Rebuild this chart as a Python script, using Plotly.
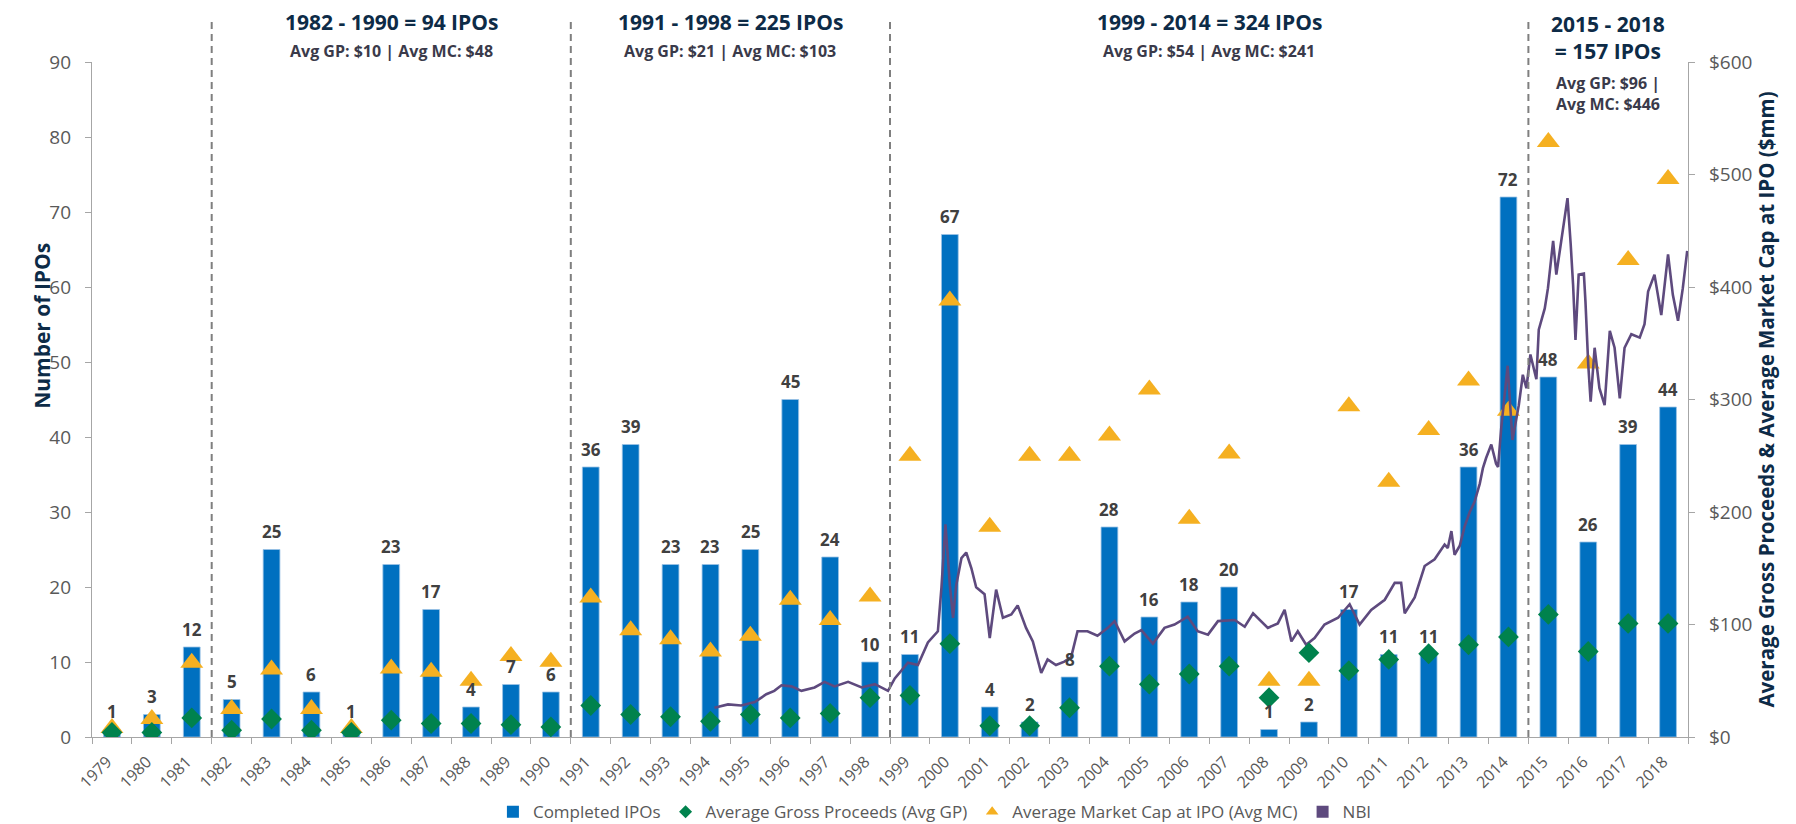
import plotly.graph_objects as go

# ---------------- data ----------------
years = list(range(1979, 2019))
ipos = [1, 3, 12, 5, 25, 6, 1, 23, 17, 4, 7, 6, 36, 39, 23, 23, 25, 45, 24, 10,
        11, 67, 4, 2, 8, 28, 16, 18, 20, 1, 2, 17, 11, 11, 36, 72, 48, 26, 39, 44]
avg_gp = [4, 4, 17, 6, 16, 6, 4, 15, 12, 12, 11, 9, 28, 20, 18, 14, 20, 17, 21, 35,
          37, 83, 10, 10, 26, 63, 47, 56, 63, 35, 75, 59, 69, 74, 82, 89, 109, 76, 101, 101]
avg_mc = [8, 16, 66, 25, 60, 25, 8, 61, 58, 50, 72, 67, 124, 95, 87, 76, 90, 122, 104, 125,
          250, 388, 187, 250, 250, 268, 309, 194, 252, 50, 50, 294, 227, 273, 317, 290,
          529, 332, 424, 496]

# NBI (plotted against the right-hand scale), x as decimal years
nbi_year = [1994.10, 1994.44, 1994.77, 1995.11, 1995.40, 1995.60, 1995.78, 1996.03, 1996.28,
            1996.61, 1996.86, 1997.11, 1997.45, 1997.79, 1998.12, 1998.45, 1998.62, 1998.95,
            1999.20, 1999.45, 1999.70, 1999.79, 1999.89, 2000.00, 2000.08, 2000.16, 2000.29,
            2000.41, 2000.54, 2000.66, 2000.87, 2001.00, 2001.16, 2001.33, 2001.54, 2001.70,
            2001.91, 2002.08, 2002.29, 2002.45, 2002.66, 2002.87, 2003.04, 2003.20, 2003.45,
            2003.70, 2003.96, 2004.13, 2004.38, 2004.63, 2004.80, 2005.09, 2005.38, 2005.63,
            2005.96, 2006.21, 2006.47, 2006.72, 2007.14, 2007.39, 2007.60, 2007.97, 2008.22,
            2008.39, 2008.56, 2008.72, 2008.93, 2009.14, 2009.39, 2009.73, 2010.02, 2010.27,
            2010.56, 2010.90, 2011.15, 2011.31, 2011.40, 2011.65, 2011.90, 2012.15, 2012.40,
            2012.48, 2012.57, 2012.65, 2012.78, 2012.90, 2013.03, 2013.15, 2013.28, 2013.36,
            2013.44, 2013.57, 2013.69, 2013.74, 2013.82, 2013.98, 2014.10, 2014.26, 2014.36,
            2014.45, 2014.55, 2014.70, 2014.76, 2014.91, 2014.99, 2015.12, 2015.20, 2015.32,
            2015.48, 2015.56, 2015.62, 2015.68, 2015.76, 2015.89, 2015.93, 2016.00, 2016.06,
            2016.16, 2016.28, 2016.41, 2016.54, 2016.66, 2016.79, 2016.91, 2017.08, 2017.29,
            2017.41, 2017.50, 2017.66, 2017.83, 2018.00, 2018.12, 2018.25, 2018.37, 2018.48]
nbi_value = [26, 29, 28, 31, 38, 41, 46, 45, 41,
             44, 49, 45, 49, 44, 47, 41, 52, 66,
             64, 84, 94, 133, 189, 135, 106, 135, 159,
             164, 150, 133, 127, 88, 131, 106, 109, 117,
             97, 85, 57, 69, 64, 67, 71, 94, 94,
             90, 97, 103, 85, 92, 95, 83, 97, 100,
             107, 94, 91, 103, 104, 98, 110, 97, 101,
             113, 85, 94, 82, 88, 100, 106, 118, 100,
             113, 122, 137, 137, 110, 124, 152, 158, 171,
             168, 183, 162, 170, 187, 200, 209, 225, 239,
             248, 260, 243, 240, 275, 330, 264, 295, 322,
             310, 340, 318, 362, 381, 399, 441, 411, 441,
             479, 438, 402, 353, 411, 412, 387, 331, 298,
             346, 310, 295, 361, 346, 301, 346, 358, 355,
             367, 396, 411, 375, 429, 393, 370, 399, 432]

# period annotations (text as printed on the chart)
periods = [(1982, 1990), (1991, 1998), (1999, 2014), (2015, 2018)]
period_titles = ["1982 - 1990 = 94 IPOs", "1991 - 1998 = 225 IPOs",
                 "1999 - 2014 = 324 IPOs", "2015 - 2018<br>= 157 IPOs"]
period_subtitles = ["Avg GP: $10 | Avg MC: $48", "Avg GP: $21 | Avg MC: $103",
                    "Avg GP: $54 | Avg MC: $241", "Avg GP: $96 |<br>Avg MC: $446"]

# ---------------- styles ----------------
BLUE = "#0070C0"
GREEN = "#00824D"
GOLD = "#F5B021"
PURPLE = "#5E4A7E"
NAVY = "#0D2B47"
GREY_TXT = "#595959"
AXIS = "#A6A6A6"
FONT = "Open Sans"

fig = go.Figure()

fig.add_trace(go.Bar(x=years, y=ipos, width=0.42,
                     marker=dict(color=BLUE, line=dict(color="#9CC3E5", width=0.8)),
                     name="Completed IPOs", showlegend=False))
fig.add_trace(go.Scatter(x=years, y=avg_mc, yaxis="y2", mode="markers",
                         marker=dict(symbol="triangle-up", size=20, color=GOLD),
                         name="Average Market Cap at IPO (Avg MC)", showlegend=False))
fig.add_trace(go.Scatter(x=nbi_year, y=nbi_value, yaxis="y2", mode="lines",
                         line=dict(color=PURPLE, width=2.6), name="NBI", showlegend=False))
fig.add_trace(go.Scatter(x=years, y=avg_gp, yaxis="y2", mode="markers",
                         marker=dict(symbol="diamond", size=16, color=GREEN),
                         name="Average Gross Proceeds (Avg GP)", showlegend=False))

# legend entries
fig.add_trace(go.Scatter(x=[None], y=[None], mode="markers", name="Completed IPOs",
                         marker=dict(symbol="square", size=12, color=BLUE)))
fig.add_trace(go.Scatter(x=[None], y=[None], mode="markers", name="Average Gross Proceeds (Avg GP)",
                         marker=dict(symbol="diamond", size=10, color=GREEN)))
fig.add_trace(go.Scatter(x=[None], y=[None], mode="markers", name="Average Market Cap at IPO (Avg MC)",
                         marker=dict(symbol="triangle-up", size=11, color=GOLD)))
fig.add_trace(go.Scatter(x=[None], y=[None], mode="markers", name="NBI",
                         marker=dict(symbol="square", size=12, color=PURPLE)))

annotations = []
# bar value labels
for yr, n in zip(years, ipos):
    annotations.append(dict(x=yr, y=n, xref="x", yref="y", text=str(n), showarrow=False,
                            yshift=18, font=dict(family=FONT, size=17, color="#404040", weight="bold")))

shapes = []
for (a, b), t, s in zip(periods, period_titles, period_subtitles):
    shapes.append(dict(type="line", xref="x", yref="paper", x0=a - 0.5, x1=a - 0.5, y0=0, y1=1.066,
                       line=dict(color="#7F7F7F", width=2, dash="7px,5px")))
    c = (a + b) / 2
    if "<br>" in t:
        annotations.append(dict(x=c, y=1.037, xref="x", yref="paper", text=t, showarrow=False,
                                font=dict(family=FONT, size=21, color=NAVY, weight="bold"), yanchor="middle"))
        annotations.append(dict(x=c, y=0.953, xref="x", yref="paper", text=s, showarrow=False,
                                font=dict(family=FONT, size=16, color="#3A3A4A", weight="bold"), yanchor="middle"))
    else:
        annotations.append(dict(x=c, y=1.059, xref="x", yref="paper", text=t, showarrow=False,
                                font=dict(family=FONT, size=21, color=NAVY, weight="bold"), yanchor="middle"))
        annotations.append(dict(x=c, y=1.016, xref="x", yref="paper", text=s, showarrow=False,
                                font=dict(family=FONT, size=16, color="#3A3A4A", weight="bold"), yanchor="middle"))

# axis titles
annotations.append(dict(x=-0.0414, y=0.609, xref="paper", yref="paper", text="Number of IPOs",
                        textangle=-90, showarrow=False,
                        font=dict(family=FONT, size=21, color=NAVY, weight="bold")))
annotations.append(dict(x=1.0583, y=0.5, xref="paper", yref="paper",
                        text="Average Gross Proceeds & Average Market Cap at IPO ($mm)",
                        textangle=-90, showarrow=False,
                        font=dict(family=FONT, size=20.5, color=NAVY, weight="bold")))

boundaries = [y - 0.5 for y in years] + [years[-1] + 0.5]

fig.update_layout(
    width=1796, height=824,
    margin=dict(l=84, r=116, t=54, b=95, autoexpand=False),
    paper_bgcolor="white", plot_bgcolor="white",
    font=dict(family=FONT, color=GREY_TXT),
    shapes=shapes, annotations=annotations,
    xaxis=dict(range=[1978.5, 2018.5], tickvals=years, ticktext=[str(y) for y in years],
               tickangle=-45, ticks="", showline=True, linecolor=AXIS, linewidth=1.3,
               showgrid=False, zeroline=False, tickfont=dict(size=16, color=GREY_TXT),
               ticklabelstandoff=8, ticklabelshift=-5, automargin=False,
               minor=dict(tickvals=boundaries, ticks="outside", ticklen=6, tickcolor=AXIS,
                          tickwidth=1.3, showgrid=False)),
    yaxis=dict(range=[0, 90], dtick=10, ticks="outside", ticklen=6, tickcolor=AXIS, tickwidth=1.3,
               showline=True, linecolor=AXIS, linewidth=1.3, showgrid=False, zeroline=False,
               tickfont=dict(size=19, color=GREY_TXT), ticklabelstandoff=10, automargin=False),
    yaxis2=dict(range=[0, 600], dtick=100, tickprefix="$", overlaying="y", side="right",
                ticks="outside", ticklen=6, tickcolor=AXIS, tickwidth=1.3,
                showline=True, linecolor=AXIS, linewidth=1.3, showgrid=False, zeroline=False,
                tickfont=dict(size=19, color=GREY_TXT), ticklabelstandoff=10, automargin=False),
    legend=dict(orientation="h", xref="container", yref="container", x=0.27, xanchor="left",
                y=0.024, yanchor="middle", font=dict(size=17, color=GREY_TXT),
                itemwidth=30, tracegroupgap=0),
    barmode="overlay",
)

fig.write_html("out.html")
